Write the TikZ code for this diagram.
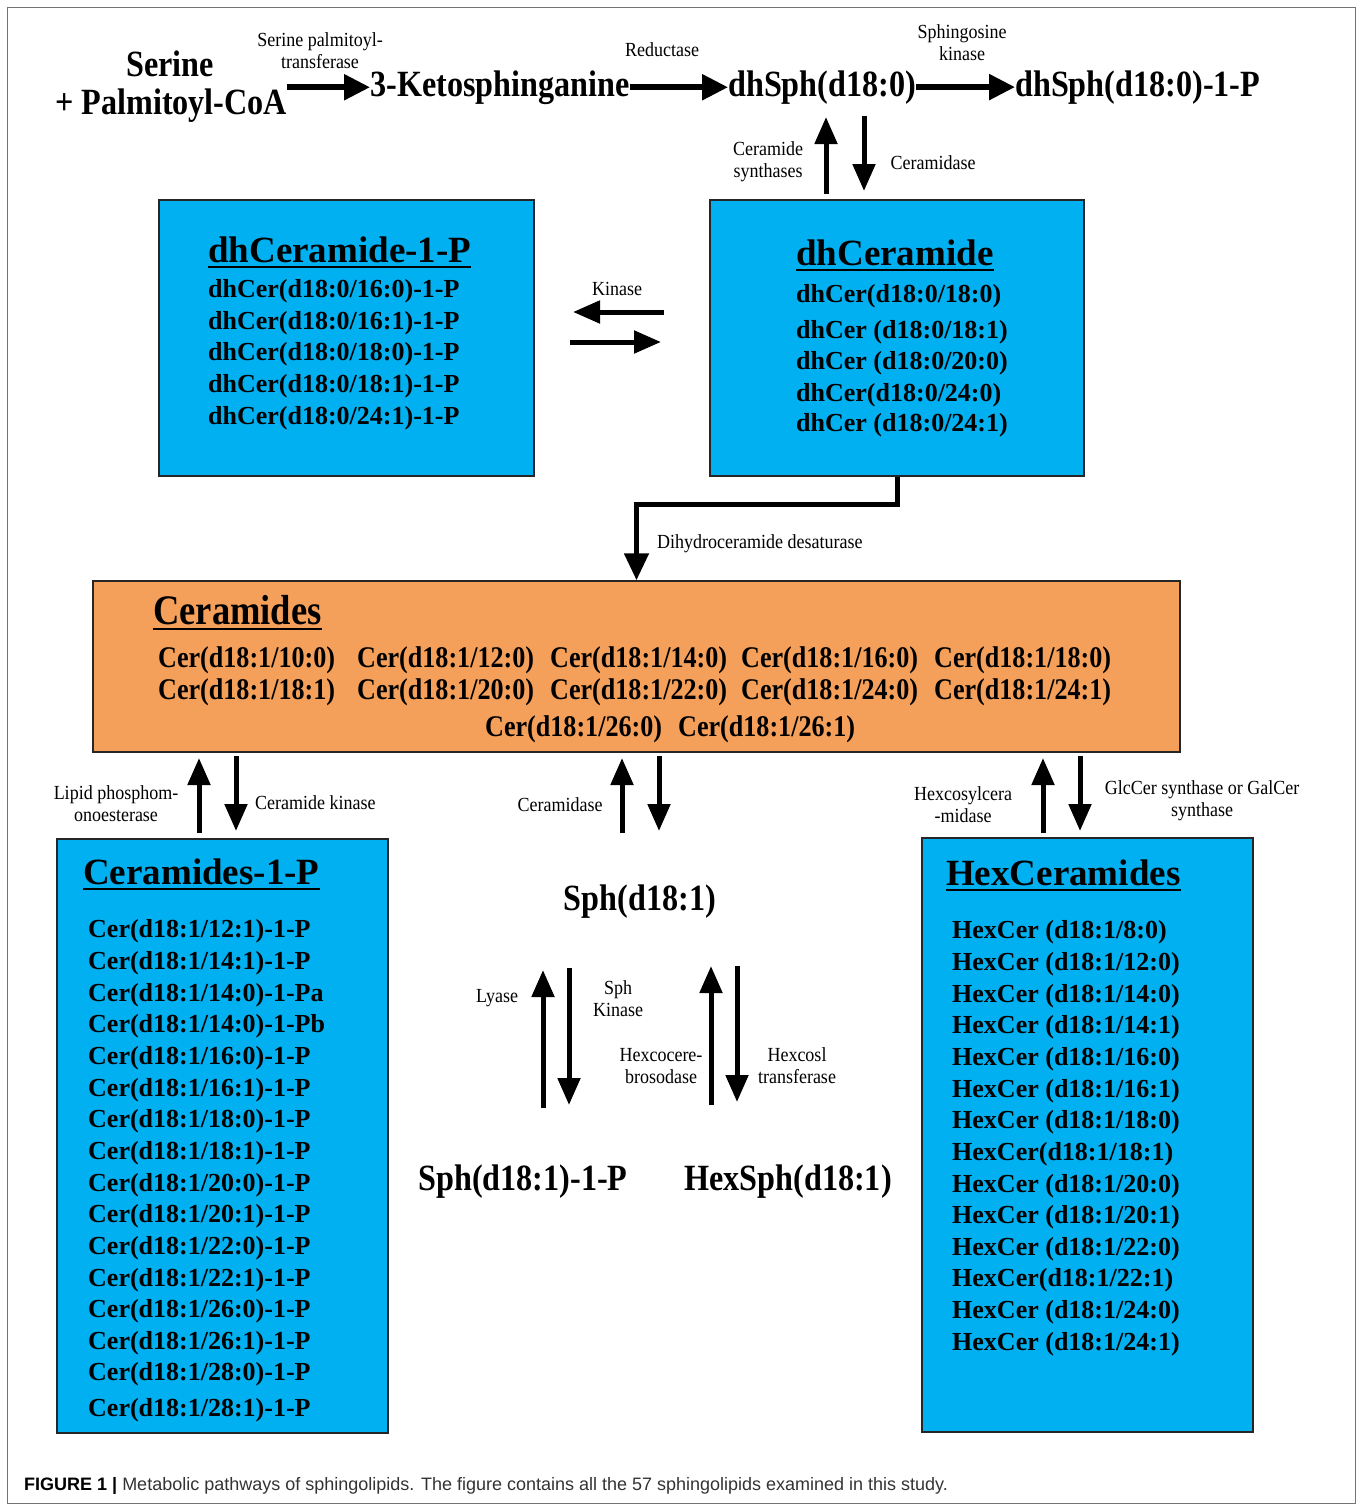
\documentclass[tikz,border=0pt]{standalone}
\usepackage{fontspec}
\setmainfont{Liberation Serif}
\setsansfont{Liberation Sans}
\newfontfamily\condf[FakeStretch=0.87]{Liberation Serif}
\newfontfamily\labf[FakeStretch=0.9]{Liberation Serif}
\usetikzlibrary{arrows.meta}
\definecolor{boxblue}{HTML}{00B0F0}
\definecolor{boxorange}{HTML}{F5A05A}
\tikzset{
  mainlbl/.style={font={\condf\bfseries\fontsize{37}{40}\selectfont}, inner sep=0pt, anchor=base west},
  ttl/.style={font={\bfseries\fontsize{37}{40}\selectfont}, inner sep=0pt, anchor=base west},
  certtl/.style={font={\condf\bfseries\fontsize{42}{44}\selectfont}, inner sep=0pt, anchor=base west},
  item/.style={font={\bfseries\fontsize{26}{28}\selectfont}, inner sep=0pt, anchor=base west},
  ceritem/.style={font={\condf\bfseries\fontsize{30}{32}\selectfont}, inner sep=0pt, anchor=base west},
  enz/.style={font={\labf\fontsize{20}{22}\selectfont}, inner sep=0pt, align=center},
  pbox/.style={draw=black!85, line width=1.5pt, fill=boxblue},
  obox/.style={draw=black!85, line width=1.5pt, fill=boxorange},
  uline/.style={line width=2.5pt},
  harr/.style={line width=5.5pt, -{Triangle[length=26pt,width=25pt]}},
  varr/.style={line width=5pt, -{Triangle[length=27pt,width=22pt]}},
  frame/.style={draw=black!55, line width=1pt}
}
\begin{document}
\begin{tikzpicture}[x=1pt,y=-1pt]
\useasboundingbox (0,0) rectangle (1356,1504);
\draw[frame] (7.5,7.5) rectangle (1355,1503.5);

% ---- top row
\node[mainlbl, anchor=base] (ser) at (170,77) {Serine};
\node[mainlbl] (pal) at (55,114) {+ Palmitoyl-CoA};
\node[mainlbl] (keto) at (370,96) {3-Ketosphinganine};
\node[mainlbl] (dhsph) at (728,96) {dhSph(d18:0)};
\node[mainlbl] (dhsp1) at (1015,96) {dhSph(d18:0)-1-P};

\node[enz] (e1) at (320,51) {Serine palmitoyl-\\transferase};
\node[enz] (e2) at (662,50) {Reductase};
\node[enz] (e3) at (962,43) {Sphingosine\\kinase};
\node[enz] (e4) at (768,162) {Ceramide\\synthases};
\node[enz] (e5) at (933,163) {Ceramidase};

\draw[harr] (keto.west -| pal.east) -- (keto.west);
\draw[harr] (keto.east) -- (keto.east -| dhsph.west);
\draw[harr] (dhsph.east) -- (dhsph.east -| dhsp1.west);

% ---- boxes
\node[pbox, minimum width=375pt, minimum height=276pt] (b1) at (346.5,338) {};
\node[pbox, minimum width=374pt, minimum height=276pt] (b2) at (897,338) {};
\node[obox, minimum width=1087pt, minimum height=171pt] (b3) at (636.5,666.5) {};
\node[pbox, minimum width=331pt, minimum height=594pt] (b4) at (222.5,1136) {};
\node[pbox, minimum width=331pt, minimum height=594pt] (b5) at (1087.5,1135) {};

% ---- dhCeramide-1-P
\node[ttl] (t1) at (208,262) {dhCeramide-1-P};
\draw[uline] ([yshift=-5pt]t1.base west) -- ([yshift=-5pt]t1.base east);
\foreach \txt/\yy [count=\i] in {{dhCer(d18:0/16:0)-1-P}/297, {dhCer(d18:0/16:1)-1-P}/329, {dhCer(d18:0/18:0)-1-P}/360, {dhCer(d18:0/18:1)-1-P}/392, {dhCer(d18:0/24:1)-1-P}/424}
  \node[item] (pa\i) at (208,\yy) {\txt};

% ---- dhCeramide
\node[ttl] (t2) at (796,265) {dhCeramide};
\draw[uline] ([yshift=-5pt]t2.base west) -- ([yshift=-5pt]t2.base east);
\foreach \txt/\yy [count=\i] in {{dhCer(d18:0/18:0)}/302, {dhCer (d18:0/18:1)}/338, {dhCer (d18:0/20:0)}/369, {dhCer(d18:0/24:0)}/401, {dhCer (d18:0/24:1)}/431}
  \node[item] (pb\i) at (796,\yy) {\txt};

% ---- kinase arrows
\node[enz] (e6) at (617,289) {Kinase};
\coordinate (k1a) at (664,312); \coordinate (k1b) at (573,312);
\coordinate (k2a) at (570,342); \coordinate (k2b) at (661,342);
\draw[varr] (k1a) -- (k1b);
\draw[varr] (k2a) -- (k2b);

% ---- dhSph vertical arrows
\coordinate (v1a) at (826,194); \coordinate (v1b) at (826,117);
\coordinate (v2a) at (864,116); \coordinate (v2b) at (864,191);
\draw[varr] (v1a) -- (v1b);
\draw[varr] (v2a) -- (v2b);

% ---- desaturase elbow
\draw[line width=5pt, -{Triangle[length=27pt,width=24pt]}] (b2.south) -- ++(0,28) -| (b3.north);
\node[enz, anchor=west] (e7) at (657,544) {Dihydroceramide desaturase};

% ---- Ceramides
\node[certtl] (t3) at (153,624) {Ceramides};
\draw[uline] ([yshift=-5pt]t3.base west) -- ([yshift=-5pt]t3.base east);
\foreach \txt/\xx [count=\i] in {{Cer(d18:1/10:0)}/158, {Cer(d18:1/12:0)}/357, {Cer(d18:1/14:0)}/550, {Cer(d18:1/16:0)}/741, {Cer(d18:1/18:0)}/934}
  \node[ceritem] (ca\i) at (\xx,667) {\txt};
\foreach \txt/\xx [count=\i] in {{Cer(d18:1/18:1)}/158, {Cer(d18:1/20:0)}/357, {Cer(d18:1/22:0)}/550, {Cer(d18:1/24:0)}/741, {Cer(d18:1/24:1)}/934}
  \node[ceritem] (cb\i) at (\xx,699) {\txt};
\node[ceritem] (cc1) at (485,736) {Cer(d18:1/26:0)};
\node[ceritem] (cc2) at (678,736) {Cer(d18:1/26:1)};

% ---- arrows below Ceramides
\coordinate (l1a) at (199,833); \coordinate (l1b) at (199,758);
\coordinate (l2a) at (236,756); \coordinate (l2b) at (236,831);
\coordinate (m1a) at (622,833); \coordinate (m1b) at (622,758);
\coordinate (m2a) at (659,756); \coordinate (m2b) at (659,831);
\coordinate (r1a) at (1043,833); \coordinate (r1b) at (1043,758);
\coordinate (r2a) at (1080,756); \coordinate (r2b) at (1080,831);
\draw[varr] (l1a) -- (l1b);  \draw[varr] (l2a) -- (l2b);
\draw[varr] (m1a) -- (m1b);  \draw[varr] (m2a) -- (m2b);
\draw[varr] (r1a) -- (r1b);  \draw[varr] (r2a) -- (r2b);
\node[enz] (e8) at (116,804) {Lipid phosphom-\\onoesterase};
\node[enz, anchor=west] (e9) at (255,803) {Ceramide kinase};
\node[enz] (e10) at (560,805) {Ceramidase};
\node[enz] (e11) at (963,805) {Hexcosylcera\\-midase};
\node[enz] (e12) at (1202,801) {GlcCer synthase or GalCer\\synthase};

% ---- Ceramides-1-P
\node[ttl] (t4) at (83,884) {Ceramides-1-P};
\draw[uline] ([yshift=-5pt]t4.base west) -- ([yshift=-5pt]t4.base east);
\foreach \txt/\yy [count=\i] in {{Cer(d18:1/12:1)-1-P}/937, {Cer(d18:1/14:1)-1-P}/969, {Cer(d18:1/14:0)-1-Pa}/1001, {Cer(d18:1/14:0)-1-Pb}/1032, {Cer(d18:1/16:0)-1-P}/1064, {Cer(d18:1/16:1)-1-P}/1096, {Cer(d18:1/18:0)-1-P}/1127, {Cer(d18:1/18:1)-1-P}/1159, {Cer(d18:1/20:0)-1-P}/1191, {Cer(d18:1/20:1)-1-P}/1222, {Cer(d18:1/22:0)-1-P}/1254, {Cer(d18:1/22:1)-1-P}/1286, {Cer(d18:1/26:0)-1-P}/1317, {Cer(d18:1/26:1)-1-P}/1349, {Cer(d18:1/28:0)-1-P}/1380, {Cer(d18:1/28:1)-1-P}/1416}
  \node[item] (pc\i) at (88,\yy) {\txt};

% ---- HexCeramides
\node[ttl] (t5) at (946,885) {HexCeramides};
\draw[uline] ([yshift=-5pt]t5.base west) -- ([yshift=-5pt]t5.base east);
\foreach \txt/\yy [count=\i] in {{HexCer (d18:1/8:0)}/938, {HexCer (d18:1/12:0)}/970, {HexCer (d18:1/14:0)}/1002, {HexCer (d18:1/14:1)}/1033, {HexCer (d18:1/16:0)}/1065, {HexCer (d18:1/16:1)}/1097, {HexCer (d18:1/18:0)}/1128, {HexCer(d18:1/18:1)}/1160, {HexCer (d18:1/20:0)}/1192, {HexCer (d18:1/20:1)}/1223, {HexCer (d18:1/22:0)}/1255, {HexCer(d18:1/22:1)}/1286, {HexCer (d18:1/24:0)}/1318, {HexCer (d18:1/24:1)}/1350}
  \node[item] (ph\i) at (952,\yy) {\txt};

% ---- sphingosine branch
\node[mainlbl, anchor=base] (sph) at (640,910) {Sph(d18:1)};
\node[mainlbl, anchor=base] (sph1p) at (523,1190) {Sph(d18:1)-1-P};
\node[mainlbl, anchor=base] (hexsph) at (788,1190) {HexSph(d18:1)};

\coordinate (s1a) at (543,1108); \coordinate (s1b) at (543,970);
\coordinate (s2a) at (569,968);  \coordinate (s2b) at (569,1105);
\coordinate (h1a) at (711,1105); \coordinate (h1b) at (711,966);
\coordinate (h2a) at (737,966);  \coordinate (h2b) at (737,1102);
\draw[varr] (s1a) -- (s1b);  \draw[varr] (s2a) -- (s2b);
\draw[varr] (h1a) -- (h1b);  \draw[varr] (h2a) -- (h2b);
\node[enz] (e13) at (497,998) {Lyase};
\node[enz] (e14) at (618,999) {Sph\\Kinase};
\node[enz] (e15) at (661,1066) {Hexcocere-\\brosodase};
\node[enz] (e16) at (797,1066) {Hexcosl\\transferase};

% ---- caption
\node[anchor=base west, inner sep=0pt, font={\sffamily\fontsize{18}{20}\selectfont}] (cap) at (24,1490)
  {\textbf{FIGURE 1 |} \textcolor{black!80}{Metabolic pathways of sphingolipids. The figure contains all the 57 sphingolipids examined in this study.}};
\end{tikzpicture}
\end{document}
